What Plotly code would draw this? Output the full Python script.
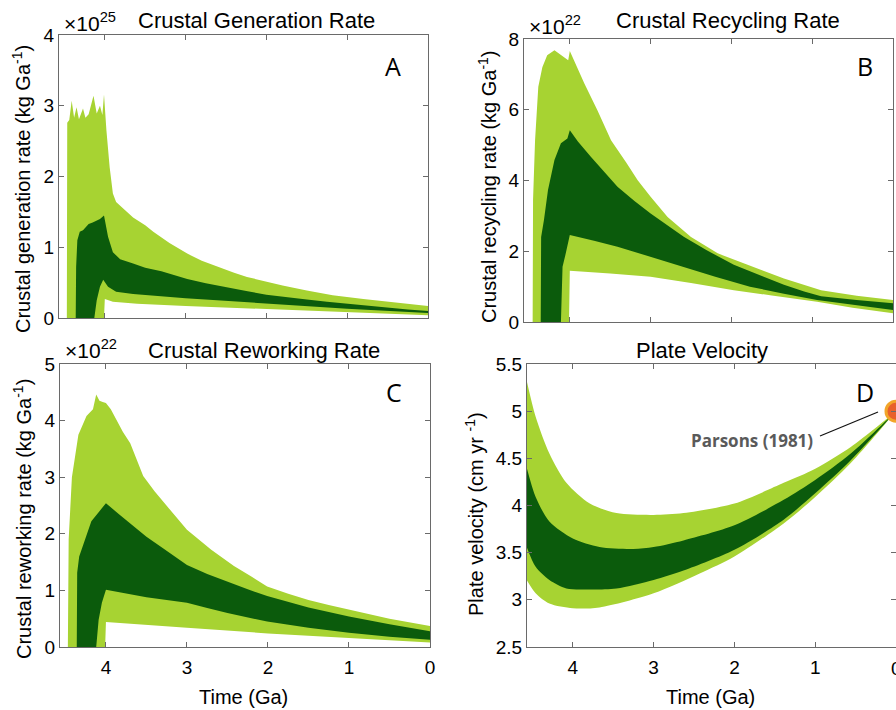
import plotly.graph_objects as go

W, H = 896, 710
LIGHT = "#a7d332"
DARK = "#0b5b0c"
AXC = "#6a6a6a"
FONT = "Liberation Sans, Arial, sans-serif"

# ---------------- Panel A: crustal generation rate (x 1e25 kg/Ga) ----------------
a_outer_up_t = [4.47, 4.465, 4.44, 4.41, 4.38, 4.35, 4.32, 4.27, 4.24, 4.20, 4.14, 4.10, 4.06, 4.03, 4.01,
                3.98, 3.94, 3.90, 3.86, 3.80, 3.75, 3.65, 3.50, 3.40, 3.20, 2.98, 2.80, 2.60, 2.40, 2.24,
                2.00, 1.80, 1.50, 1.18, 0.80, 0.40, 0.0]
a_outer_up_v = [0.0, 2.76, 2.80, 3.07, 2.83, 2.98, 2.81, 2.96, 2.83, 2.88, 3.14, 2.89, 3.00, 2.87, 3.16,
                2.65, 2.13, 1.76, 1.64, 1.58, 1.53, 1.42, 1.31, 1.22, 1.06, 0.91, 0.81, 0.72, 0.64, 0.58,
                0.51, 0.46, 0.39, 0.32, 0.27, 0.22, 0.17]
a_outer_lo_t = [4.47, 4.01, 4.00, 3.90, 3.60, 3.00, 2.00, 1.00, 0.0]
a_outer_lo_v = [0.0, 0.0, 0.27, 0.23, 0.20, 0.17, 0.13, 0.08, 0.04]
a_inner_up_t = [4.36, 4.355, 4.34, 4.31, 4.27, 4.23, 4.20, 4.15, 4.10, 4.06, 4.01, 3.96, 3.90, 3.81, 3.65,
                3.50, 3.30, 2.98, 2.75, 2.50, 2.25, 2.00, 1.75, 1.50, 1.25, 1.00, 0.75, 0.50, 0.25, 0.0]
a_inner_up_v = [0.0, 0.72, 1.10, 1.22, 1.24, 1.29, 1.33, 1.35, 1.38, 1.40, 1.45, 1.15, 0.93, 0.83, 0.77,
                0.71, 0.66, 0.55, 0.49, 0.43, 0.38, 0.33, 0.29, 0.26, 0.23, 0.20, 0.17, 0.15, 0.12, 0.10]
a_inner_lo_t = [4.36, 4.13, 4.10, 4.06, 4.02, 3.96, 3.86, 3.65, 3.00, 2.00, 1.00, 0.0]
a_inner_lo_v = [0.0, 0.0, 0.25, 0.44, 0.54, 0.44, 0.37, 0.34, 0.28, 0.20, 0.13, 0.07]

# ---------------- Panel B: crustal recycling rate (x 1e22 kg/Ga) ----------------
b_outer_up_t = [4.46, 4.455, 4.43, 4.39, 4.34, 4.28, 4.19, 4.11, 4.05, 4.02, 4.00, 3.90, 3.82, 3.66, 3.49,
                3.30, 3.16, 3.00, 2.79, 2.50, 2.17, 1.80, 1.35, 0.89, 0.45, 0.0]
b_outer_up_v = [0.0, 3.45, 5.14, 6.65, 7.20, 7.54, 7.68, 7.54, 7.45, 7.40, 7.66, 7.12, 6.74, 5.99, 5.14,
                4.50, 4.01, 3.54, 2.97, 2.40, 1.94, 1.62, 1.23, 0.90, 0.74, 0.62]
b_outer_lo_t = [4.46, 4.01, 4.00, 3.50, 3.00, 2.50, 1.97, 1.50, 0.94, 0.50, 0.0]
b_outer_lo_v = [0.0, 0.0, 1.45, 1.37, 1.28, 1.10, 0.90, 0.75, 0.57, 0.40, 0.25]
b_inner_up_t = [4.36, 4.355, 4.32, 4.27, 4.19, 4.11, 4.03, 4.00, 3.90, 3.74, 3.41, 3.20, 3.00, 2.59, 2.30,
                1.97, 1.60, 1.35, 1.10, 0.89, 0.45, 0.0]
b_inner_up_v = [0.0, 2.40, 2.88, 3.73, 4.58, 5.05, 5.19, 5.42, 5.10, 4.67, 3.82, 3.42, 3.07, 2.41, 2.02,
                1.62, 1.28, 1.05, 0.86, 0.73, 0.62, 0.53]
b_inner_lo_t = [4.36, 4.11, 4.09, 4.05, 4.00, 3.70, 3.41, 3.00, 2.59, 2.20, 1.77, 1.35, 0.94, 0.0]
b_inner_lo_v = [0.0, 0.0, 1.56, 1.94, 2.46, 2.30, 2.13, 1.85, 1.56, 1.28, 1.00, 0.80, 0.62, 0.34]

# ---------------- Panel C: crustal reworking rate (x 1e22 kg/Ga) ----------------
c_outer_up_t = [4.47, 4.46, 4.42, 4.34, 4.24, 4.16, 4.12, 4.08, 4.04, 4.00, 3.94, 3.87, 3.79, 3.70, 3.62,
                3.54, 3.40, 3.25, 3.00, 2.70, 2.42, 2.20, 2.01, 1.75, 1.50, 1.25, 1.00, 0.50, 0.0]
c_outer_up_v = [0.0, 1.90, 3.00, 3.75, 4.08, 4.20, 4.46, 4.35, 4.33, 4.31, 4.20, 4.02, 3.80, 3.60, 3.30,
                3.02, 2.75, 2.49, 2.07, 1.72, 1.43, 1.24, 1.07, 0.94, 0.83, 0.74, 0.66, 0.50, 0.37]
c_outer_lo_t = [4.47, 4.01, 4.00, 3.00, 2.00, 1.00, 0.0]
c_outer_lo_v = [0.0, 0.0, 0.44, 0.34, 0.24, 0.16, 0.08]
c_inner_up_t = [4.36, 4.355, 4.33, 4.26, 4.18, 4.08, 4.00, 3.85, 3.66, 3.50, 3.30, 3.00, 2.75, 2.50, 2.25,
                2.01, 1.75, 1.50, 1.25, 1.00, 0.50, 0.0]
c_inner_up_v = [0.0, 1.31, 1.60, 1.90, 2.22, 2.40, 2.54, 2.36, 2.13, 1.95, 1.75, 1.45, 1.29, 1.15, 1.02,
                0.90, 0.80, 0.70, 0.62, 0.54, 0.40, 0.28]
c_inner_lo_t = [4.36, 4.12, 4.09, 4.05, 4.00, 3.75, 3.50, 3.00, 2.75, 2.50, 2.25, 2.01, 1.50, 1.00, 0.50, 0.0]
c_inner_lo_v = [0.0, 0.0, 0.48, 0.78, 1.01, 0.95, 0.88, 0.78, 0.69, 0.60, 0.52, 0.45, 0.34, 0.25, 0.18, 0.13]

# ---------------- Panel D: plate velocity (cm/yr) ----------------
d_outer_up_t = [4.57, 4.46, 4.29, 4.08, 3.79, 3.46, 3.00, 2.63, 2.00, 1.39, 1.00, 0.56, 0.0]
d_outer_up_v = [5.32, 4.94, 4.55, 4.24, 4.02, 3.92, 3.90, 3.92, 4.02, 4.24, 4.39, 4.62, 5.0]
d_outer_lo_t = [4.57, 4.46, 4.29, 4.00, 3.67, 3.00, 2.43, 2.00, 1.39, 1.00, 0.56, 0.0]
d_outer_lo_v = [3.21, 3.07, 2.96, 2.91, 2.92, 3.07, 3.28, 3.46, 3.81, 4.09, 4.45, 5.0]
d_inner_up_t = [4.57, 4.46, 4.29, 4.00, 3.67, 3.25, 3.00, 2.63, 2.00, 1.39, 1.00, 0.56, 0.0]
d_inner_up_v = [4.40, 4.09, 3.83, 3.65, 3.56, 3.54, 3.56, 3.63, 3.79, 4.06, 4.27, 4.55, 5.0]
d_inner_lo_t = [4.57, 4.46, 4.29, 4.08, 3.79, 3.46, 3.00, 2.63, 2.00, 1.39, 1.00, 0.56, 0.0]
d_inner_lo_v = [3.56, 3.35, 3.21, 3.12, 3.11, 3.12, 3.21, 3.31, 3.53, 3.85, 4.13, 4.48, 5.0]

parsons_t = [0.0]
parsons_v = [5.0]

titles = ["Crustal Generation Rate", "Crustal Recycling Rate", "Crustal Reworking Rate", "Plate Velocity"]
ylabels = ["Crustal generation rate (kg Ga<sup>-1</sup>)", "Crustal recycling rate (kg Ga<sup>-1</sup>)",
           "Crustal reworking rate (kg Ga<sup>-1</sup>)", "Plate velocity (cm yr <sup>-1</sup>)"]
letters = ["A", "B", "C", "D"]
exponents = ["25", "22", "22", None]
x_ticks = [4, 3, 2, 1, 0]
y_ticks = [[0, 1, 2, 3, 4], [0, 2, 4, 6, 8], [0, 1, 2, 3, 4, 5], [2.5, 3, 3.5, 4, 4.5, 5, 5.5]]
y_ranges = [[0, 4], [0, 8], [0, 5], [2.5, 5.5]]
x_range = [4.567, 0]

panels = [
    (a_outer_up_t, a_outer_up_v, a_outer_lo_t, a_outer_lo_v, a_inner_up_t, a_inner_up_v, a_inner_lo_t, a_inner_lo_v),
    (b_outer_up_t, b_outer_up_v, b_outer_lo_t, b_outer_lo_v, b_inner_up_t, b_inner_up_v, b_inner_lo_t, b_inner_lo_v),
    (c_outer_up_t, c_outer_up_v, c_outer_lo_t, c_outer_lo_v, c_inner_up_t, c_inner_up_v, c_inner_lo_t, c_inner_lo_v),
    (d_outer_up_t, d_outer_up_v, d_outer_lo_t, d_outer_lo_v, d_inner_up_t, d_inner_up_v, d_inner_lo_t, d_inner_lo_v),
]

# pixel boxes of each plot area: (left, top, right, bottom)
boxes = [(59, 35, 428, 318), (524, 39, 893, 322), (60, 364, 430, 647), (527, 364, 896, 647)]


def px(x):
    return x / W


def py(y):
    return 1 - y / H


fig = go.Figure()

for i, p in enumerate(panels):
    ou_t, ou_v, ol_t, ol_v, iu_t, iu_v, il_t, il_v = p
    xa = "x" if i == 0 else f"x{i+1}"
    ya = "y" if i == 0 else f"y{i+1}"
    shape = "spline" if i == 3 else "linear"
    fig.add_trace(go.Scatter(x=list(ou_t) + list(ol_t)[::-1], y=list(ou_v) + list(ol_v)[::-1],
                             fill="toself", fillcolor=LIGHT, mode="lines",
                             line=dict(width=0, color=LIGHT, shape=shape, smoothing=0.8),
                             xaxis=xa, yaxis=ya, hoverinfo="skip", showlegend=False))
    fig.add_trace(go.Scatter(x=list(iu_t) + list(il_t)[::-1], y=list(iu_v) + list(il_v)[::-1],
                             fill="toself", fillcolor=DARK, mode="lines",
                             line=dict(width=0, color=DARK, shape=shape, smoothing=0.8),
                             xaxis=xa, yaxis=ya, hoverinfo="skip", showlegend=False))

fig.add_trace(go.Scatter(x=parsons_t, y=parsons_v, mode="markers", xaxis="x4", yaxis="y4",
                         marker=dict(size=20, color="#e8602c", line=dict(color="#f2a52a", width=3)),
                         cliponaxis=False, hoverinfo="skip", showlegend=False))

layout = dict(width=W, height=H, autosize=False,
              margin=dict(l=0, r=0, t=0, b=0, pad=0, autoexpand=False),
              paper_bgcolor="white", plot_bgcolor="white",
              font=dict(family=FONT, color="#000000", size=19), showlegend=False)

for i in range(4):
    l, t, r, b = boxes[i]
    sfx = "" if i == 0 else str(i + 1)
    bottom_row = i >= 2
    layout["xaxis" + sfx] = dict(domain=[px(l), px(r)], range=x_range, tickvals=x_ticks,
                                 ticks="inside", ticklen=5, tickcolor=AXC, showline=True,
                                 linecolor=AXC, linewidth=1, mirror="ticks", showgrid=False,
                                 zeroline=False, showticklabels=bottom_row, automargin=False,
                                 tickfont=dict(size=19, family=FONT), ticklabelstandoff=3,
                                 anchor="y" + sfx)
    layout["yaxis" + sfx] = dict(domain=[py(b), py(t)], range=y_ranges[i], tickvals=y_ticks[i],
                                 ticks="inside", ticklen=5, tickcolor=AXC, showline=True,
                                 linecolor=AXC, linewidth=1, mirror="ticks", showgrid=False,
                                 zeroline=False, automargin=False,
                                 tickfont=dict(size=19, family=FONT),
                                 anchor="x" + sfx)

ann = []
title_pos = [(256, 21), (728, 21), (264, 350), (702, 350)]
ylab_pos = [(22, 189), (487, 187), (22, 519), (474, 514)]
letter_pos = [(393, 66), (865, 66), (394, 392), (865, 392)]
exp_pos = [(62, 22), (527, 25), (63, 349), None]

for i in range(4):
    ann.append(dict(text=titles[i], x=px(title_pos[i][0]), y=py(title_pos[i][1]), xref="paper",
                    yref="paper", xanchor="center", yanchor="middle", showarrow=False,
                    font=dict(size=22, family=FONT)))
    ann.append(dict(text=ylabels[i], x=px(ylab_pos[i][0]), y=py(ylab_pos[i][1]), xref="paper",
                    yref="paper", xanchor="center", yanchor="middle", showarrow=False, textangle=-90,
                    font=dict(size=20, family=FONT)))
    ann.append(dict(text=letters[i], x=px(letter_pos[i][0]), y=py(letter_pos[i][1]), xref="paper",
                    yref="paper", xanchor="center", yanchor="middle", showarrow=False,
                    font=dict(size=25, family="Open Sans, sans-serif")))
    if exponents[i]:
        ann.append(dict(text="×10<sup>" + exponents[i] + "</sup>", x=px(exp_pos[i][0]),
                        y=py(exp_pos[i][1]), xref="paper", yref="paper", xanchor="left",
                        yanchor="middle", showarrow=False, font=dict(size=21, family=FONT)))

for i in (2, 3):
    cx = (boxes[i][0] + boxes[i][2]) / 2
    ann.append(dict(text="Time (Ga)", x=px(cx - 1), y=py(697), xref="paper", yref="paper",
                    xanchor="center", yanchor="middle", showarrow=False,
                    font=dict(size=20, family=FONT)))

# tick label "0" of panel D sits on the figure edge (partly cut off, as in the reference)
ann.append(dict(text="0", x=px(896), y=py(668), xref="paper", yref="paper",
                xanchor="center", yanchor="middle", showarrow=False,
                font=dict(size=19, family=FONT)))

ann.append(dict(text="<b>Parsons (1981)</b>", x=px(815), y=py(441), xref="paper", yref="paper",
                xanchor="right", yanchor="middle", showarrow=False,
                font=dict(size=17, family="Open Sans, sans-serif", color="#5a5a5a")))

layout["annotations"] = ann
layout["shapes"] = [dict(type="line", xref="paper", yref="paper", x0=px(820), y0=py(436),
                         x1=px(878), y1=py(412), line=dict(color="#111111", width=1.2))]

fig.update_layout(**layout)
fig.write_html("out.html")
